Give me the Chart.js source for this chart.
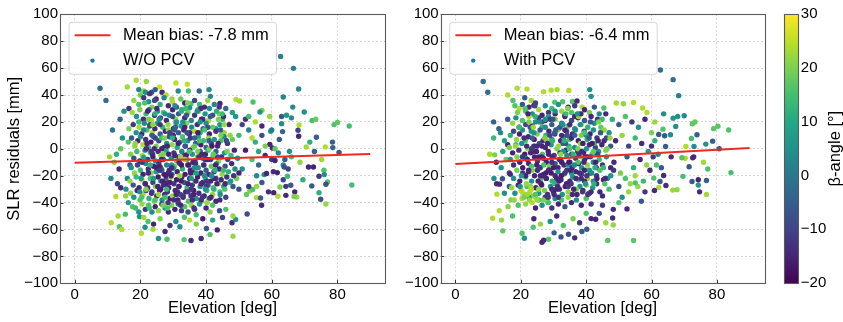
<!DOCTYPE html>
<html><head><meta charset="utf-8">
<script src="https://cdn.jsdelivr.net/npm/chart.js@4.4.0/dist/chart.umd.min.js"></script>
<style>
html,body{margin:0;padding:0;background:#fff;overflow:hidden}
#wrap{position:relative;width:843px;height:322px;background:#fff}
canvas{position:absolute;top:0}
</style></head><body>
<div id="wrap">
<canvas id="c1" width="400" height="322" style="left:0;width:400px;height:322px"></canvas>
<canvas id="c2" width="375" height="322" style="left:400px;width:375px;height:322px"></canvas>
<canvas id="cb" width="68" height="322" style="left:775px;width:68px;height:322px"></canvas>
</div>
<script>
// ---------- axes / labels ----------
const xTicks = [0, 20, 40, 60, 80];
const yTicks = [-100, -80, -60, -40, -20, 0, 20, 40, 60, 80, 100];
const cbTicks = [-20, -10, 0, 10, 20, 30];
const betaRange = [-20, 30];
const xTitle = 'Elevation [deg]';
const yTitle = 'SLR residuals [mm]';
const cbTitle = 'β-angle [°]';
const legendNoPcv = ['Mean bias: -7.8 mm', 'W/O PCV'];
const legendPcv = ['Mean bias: -6.4 mm', 'With PCV'];

// ---------- fitted bias lines ----------
const fitElev = [0, 90];
const fitNoPcv = [-10.3, -3.9];
const fitPcv = [-11.3, 0.6];

// ---------- W/O PCV: elevation [deg], residual [mm], beta [deg] ----------
const elevNoPcv = [
7.7,9.5,11.5,13.8,10.6,12.7,11,13,12,14.5,
15,16.5,13.5,14,15.5,12.5,11.1,13.2,13.6,14.3,
15.4,16.3,17.6,15.6,14,16,16.8,18.7,21.8,25.8,
30.8,34.3,16,21,21.5,23.4,26.6,27.8,31.5,34.6,
37.9,40.9,41.3,19.5,22.8,24.5,20,29.6,35.4,41,
44.2,49.1,50.2,54.3,57,56.4,59.4,62.7,66.6,68.2,
63.5,66.4,69.9,63,64.5,66,68.3,68,68.2,72.3,
73.4,79,80,83.6,71.6,73.6,70.5,73,76.3,78.5,
78.6,80.5,75.2,65.4,63,63.3,62.3,59.7,59.4,60.2,
46,48,45,52,55,53,57,60,61,47,
50,44,43,58,56,54,52,60,64,61,
63.5,66,68.6,71.2,72.7,75.9,74.4,76,77,76.5,
72.2,74.4,74.9,76.5,84.4,69.5,67,67.6,66.8,64.3,
61.9,60.6,65.8,64.3,62.5,63.5,64.8,61.7,60.5,63.8,
56.9,52.5,48.2,47.9,49,48.2,55.3,56.6,52.3,53.3,
54.2,55.4,57.7,58.4,55.4,50,53,57,56,51,
59,62,65,55,57,53,58,51,49,54,
43.4,40.1,41.2,38.5,35.4,33.3,28.1,25.5,27.5,23.8,
21.4,20.3,19.7,21,22.3,30.8,33.4,35,37,41.2,
44.1,46,24,26,29,32,37,39,42,45,
18,19.5,21,22.5,23.5,24.8,26,27.2,28.5,29.7,
31,32.3,33.5,35,36.5,38,39.5,40.5,42.5,44,
17.5,18.8,19.8,20.9,21.7,22.6,23.4,24.3,25.2,26.1,
27,27.9,28.8,29.8,30.7,31.6,32.6,33.5,34.5,35.5,
36.5,37.5,38.6,39.7,40.8,42,43.2,45.3,
16.5,17.8,18.7,19.6,20.4,21.2,22,22.8,23.6,24.4,
25.2,26,26.8,27.6,28.4,29.2,30,30.8,31.6,32.4,
33.2,34,34.8,35.6,36.4,37.3,38.2,39.1,40,41,
42,43,44.2,45.5,
16.3,17.3,18.3,19.2,20,20.8,21.6,22.4,23.2,24,
24.8,25.6,26.4,27.2,28,28.8,29.6,30.4,31.2,32,
32.8,33.6,34.4,35.2,36,36.8,37.6,38.4,39.2,40,
40.8,41.6,42.5,43.5,44.5,45.5,46.5,48,
17,18,18.9,19.8,20.6,21.4,22.2,23,23.8,24.6,
25.4,26.2,27,27.8,28.6,29.4,30.2,31,31.8,32.6,
33.4,34.2,35,35.8,36.6,37.4,38.2,39,39.8,40.6,
41.4,42.2,43,43.8,44.7,45.6,46.6,47.6,48.6,49.6,
21,34,
17.2,18.2,19.1,20,20.8,21.6,22.4,23.2,24,24.8,
25.6,26.4,27.2,28,28.8,29.6,30.4,31.2,32,32.8,
33.6,34.4,35.2,36,36.8,37.6,38.4,39.2,40,40.8,
41.6,42.4,43.2,44,44.9,45.8,46.8,47.8,48.8,50,
26,30,
16.8,17.8,18.7,19.6,20.5,21.4,22.2,23,23.8,24.6,
25.4,26.2,27,27.8,28.6,29.4,30.2,31,31.8,32.6,
33.4,34.2,35,35.8,36.6,37.4,38.2,39,39.8,40.6,
41.4,42.2,43,43.8,44.6,45.4,46.3,47.2,48.2,49.3,
17,18,19,19.9,20.8,21.7,22.6,23.4,24.2,25,
25.8,26.6,27.4,28.2,29,29.8,30.6,31.4,32.2,33,
33.8,34.6,35.4,36.2,37,37.8,38.6,39.4,40.2,41,
42,43,44.2,46,
18.5,19.5,20.5,21.5,22.5,23.5,24.5,25.5,26.5,27.5,
28.5,29.5,30.5,31.5,32.5,33.5,34.5,35.5,36.5,38,
40,42,
22,24,26,28,30,32,34,36,38,40,
23,25,27,29,31,33,35,37,39,41,
21,23.5,26.5,28.5,30.5,32.5,34.5,36.5,38.5,40.5,
24.5,27.5,29.5,31.5,33.5,35.5,37.5,39.5,42.5,44.5,
19.5,21.5,23.5,25.5,27.5,29.5,31.5,33.5,35.5,37.5,
20.5,22.5,24.5,26.5,28.5,30.5,32.5,34.5,36.5,38.5,
39.5,41.5,43.5,45.5,47.5,21.7,23.7,25.7,27.7,29.7,
31.7,33.7,35.7,37.7,39.7,41.7,43.7,45.7,22.9,24.9,
26.9,28.9,30.9,32.9,34.9,36.9,38.9,40.9,42.9,44.9,
18.4,20.4,22.4,24.4,26.4,28.4,30.4,32.4,34.4,36.4,
38.4,40.4,42.4,44.4,46.4,48.4,20.2,22.2,24.2,26.2,
28.2,30.2,32.2,34.2,36.2,38.2,40.2,42.2,44.2,46.2,
21.3,23.3,25.3,27.3,29.3,31.3,33.3,35.3,37.3,39.3,
41.3,43.3,45.3,47.3,19.8,21.8,23.8,25.8,27.8,29.8,
31.8,33.8,35.8,37.8,39.8,41.8,43.8,45.8,24.3,28.3,
32.3,36.3,40.3,44.3,22.7,26.7,30.7,34.7,38.7,42.7
];
const resNoPcv = [
45,36,14,22,-6,-4,-22,-26,-10,8,
28,30,-15,0,-35,-35.5,-55,-50,-58,-60,
-48.6,-40,-43,-30,-29,-22,-12,51,50,46,
49,48,46,43,42,42,42,40,43,43,
43,44,39,44,41,44,40,37,33.5,30,
33.7,36.7,35.5,34.8,28.6,27.4,24,68.7,59.8,44.5,
38.5,31,27.4,24,25,23,17.7,13.8,9.3,21,
22,18,19.5,17,5,8.6,1.4,-2,1.4,5,
0.9,-2.8,-8,-1.9,18.7,12.8,7,13,3.3,0.6,
30,27,22,22,20,24,17,14,0,18,
10,26,15,-5,-2,8,-1,-8,-8,-8.7,
-12,-6,-10,-13.5,-13.5,-16,-20.4,-19.2,-24.7,-26.4,
-27.6,-32.6,-37.5,-41,-26.9,-23,-32,-35.8,-35.5,-34.6,
-35.3,-32.6,-27.1,-27.9,-28.4,-23,-20.4,-17.7,-17,-13.5,
-42,-48.5,-65,-55,-52.6,-50,-36.3,-36.6,-34,-31.4,
-30.3,-27.9,-19.2,-18.4,-20,-30,-28,-25,-12,-15,
-32,-3,-15,5,10,14,2,18,24,-8,
-60.3,-59.3,-63.8,-66.7,-68.2,-67.5,-67.2,-66.7,-61.5,-59.8,
-58.3,-62.8,-50.4,-51,-54,-54,-50.9,-53,-49,-47,
-46,-45,-56,-52,-57,-58,-56,-52,-53,-51,
36,33,38,35,31,37,33,38,32,35,
31,37,34,30.5,36,33,31,36,33,31,
27,24,29,22,26,29,21,25,28,23,
27,21,25,29,22,26,29,23,27,21,
25,29,22,26,21,25,28,24,
15,18,12,16,11,19,14,17,12,15,
19,11,16,13,18,11,15,19,12,17,
14,19,11,16,13,18,12,15,19,11,
16,13,18,12,
5,8,2,6,9,3,7,1,5,9,
2,6,8,1,4,9,3,7,1,5,
9,2,6,8,1,4,9,3,6,1,
8,4,7,2,6,9,4,7,
-4,-7,-2,-9,-5,-1,-8,-3,-6,-9,
-2,-5,-8,-1,-4,-7,-3,-9,-6,-2,
-5,-8,-1,-4,-9,-6,-2,-7,-4,-1,
-8,-5,-2,-9,-6,-3,-8,-5,-1,-7,
-6.5,-4.5,
-14,-18,-12,-16,-19,-11,-15,-18,-13,-17,
-11,-15,-19,-12,-16,-19,-13,-17,-11,-15,
-19,-12,-16,-18,-11,-14,-18,-12,-16,-19,
-13,-17,-11,-15,-19,-13,-17,-11,-15,-18,
-13.5,-14.5,
-24,-27,-21,-29,-23,-26,-29,-22,-25,-28,
-21,-24,-27,-23,-29,-21,-26,-23,-28,-21,
-25,-29,-22,-27,-24,-21,-28,-25,-22,-27,
-24,-29,-22,-26,-23,-28,-21,-25,-28,-22,
-33,-36,-31,-38,-34,-31,-37,-33,-39,-35,
-31,-38,-34,-32,-37,-35,-31,-38,-34,-36,
-32,-39,-35,-31,-37,-33,-39,-35,-31,-37,
-34,-39,-32,-36,
-44,-47,-41,-45,-42,-47,-43,-46,-41,-44,
-47,-42,-45,-41,-46,-43,-47,-42,-45,-41,
-44,-42,
4,-22,18,-30,10,-20,25,-10,6,-28,
-12,30,-4,-25,20,-35,12,-18,22,0,
14,-32,-16,14,-5,28,-26,2,-38,16,
8,-36,-12,4,-8,-30,12,-20,-22,10,
20,-26,10,-34,26,-14,-40,16,-22,-2,
-10,22,-38,0,-18,32,-12,-32,8,-26,
14,-36,-6,18,-24,-30,-4,22,-20,8,
-28,2,-16,28,-8,-20,4,-30,18,-14,
-42,12,-34,20,-2,-24,-36,6,-12,26,
4,-36,-18,26,-8,-40,14,-24,34,-14,
30,-8,-30,14,-2,-20,-22,28,0,-30,
2,-38,-6,12,-34,20,-24,-4,-38,6,
34,-2,-28,8,-20,-32,6,-18,28,-12,
24,-26,-16,10,-32,0,18,-16,-26,24,
-10,30,-38,-6,-30,2,22,-26,36,-44,
-42,-44,-40,-34,-44,-24,16,-12,-4,-16
];
const betaNoPcv = [
-2,-2,-1,-4,23,12,4,-10,20,6,
5,-12,-14,18,22,24,24,23,16,24,
15,7,16,5,-14,2,-6,24,22,26,
25,25,23,22,5,-8,-14,24,4,15,
-4,4,4,2,-12,-5,18,22,16,4,
-15,24,23,16,20,6,22,2,2,3,
3,4,5,-6,6,4,24,-10,-15,15,
18,16,17,15,12,-5,23,-5,24,-5,
-4,-6,23,5,4,-4,-6,5,-15,-14,
-3,8,12,-12,24,15,-14,1,18,-15,
14,20,6,-14,10,24,-16,-12,-5,-15,
5,14,22,-15,-15,16,-12,4,16,-8,
-6,12,-8,22,15,12,-15,22,20,-14,
24,-15,-6,-12,20,-10,14,-15,-14,-8,
-14,-8,22,-14,4,22,24,-6,18,20,
16,22,4,-14,4,-8,-12,-6,-3,5,
-14,2,-10,12,-8,3,20,-10,6,16,
-15,-6,16,-14,-14,17,16,6,-14,23,
5,24,5,23,16,4,16,24,15,21,
-8,16,-15,20,-12,5,20,-16,10,-10,
22,16,-12,5,20,-15,12,3,-14,24,
-6,18,-15,5,-10,14,-14,22,3,-12,
23,5,20,-14,14,-5,24,-15,6,-10,
16,-14,3,-15,22,-5,10,-15,20,4,
-12,14,-16,6,24,-8,12,-14,
20,-12,5,23,-15,3,16,-8,24,-14,
6,-5,14,-15,22,4,-12,16,-6,8,
-15,20,-10,3,24,-14,12,-4,5,-16,
18,-12,6,22,
16,-6,22,-15,4,24,-12,12,-16,3,
20,-10,14,-15,5,-8,22,-14,10,-5,
16,-15,4,-12,20,-6,8,-16,14,-4,
22,-10,6,-14,15,3,-12,18,
20,-8,14,-15,23,3,-12,16,-16,6,
-14,22,-6,10,-15,4,-12,18,-15,2,
-10,14,-16,6,-14,20,-8,3,-15,12,
-12,16,-5,22,-14,5,-10,14,-15,4,
8,-15,
5,22,-10,14,-15,4,-14,20,-16,6,
-12,16,-15,2,-14,-5,20,-15,-8,12,
-16,-4,-14,22,-12,5,-15,14,-6,-14,
18,-12,6,-15,22,-8,12,-14,4,-15,
-15,6,
22,-6,14,-14,24,4,-15,16,-10,20,
-16,3,-14,-5,-15,22,-12,-16,5,-14,
-6,14,-15,-12,20,-16,4,-14,12,-8,
-15,16,-10,22,-14,6,-12,15,-6,20,
22,5,-14,16,24,-10,12,-15,20,-16,
-14,4,-15,-12,-16,22,-14,-15,-6,-14,
-15,16,-12,-16,5,-14,20,-15,12,-8,
22,-14,15,-10,
14,5,22,-12,16,4,-15,22,-10,6,
-14,20,-15,4,-12,16,-8,22,-15,6,
-14,16,
-15,6,-12,14,-15,22,-6,-15,16,-12,
12,-14,20,-15,5,-12,-15,8,-14,20,
4,-12,-6,22,-15,12,-15,18,-14,-8,
-10,14,6,-15,22,-12,-16,4,-14,20,
14,-15,-6,22,5,-14,-12,-15,6,20,
-12,20,16,-15,-14,4,-16,-12,-5,-14,
16,-14,-10,22,6,20,-15,3,-16,12,
-15,-6,-14,22,-12,4,-15,16,-8,-16,
20,-10,-15,5,16,-14,-12,-6,-15,14,
22,16,-14,12,-15,-12,-6,-16,20,4,
-14,-15,12,-6,20,-12,6,-15,-14,-16,
-15,-14,22,-8,-15,5,-12,18,-14,-10,
16,-12,-15,20,-16,-14,12,-15,4,-14,
-6,-15,14,22,5,-14,22,-12,-15,-8,
-15,14,-14,-12,6,-16,20,-14,-10,16,
-14,-12,22,5,15,-15,-5,-16,-14,12
];

// ---------- With PCV ----------
const elevPcv = [
8.5,9.9,11.7,11.7,13.3,13.8,12.5,11.8,12.6,13.5,
14.4,12.7,15,13.4,11.4,14.1,14.5,16.1,17.5,15.5,
10.5,12,14.5,16,15,16.5,17,16.5,14,16,
18.9,21.9,27,29.3,31.1,34.7,41.1,41.5,30.4,32.8,
35.8,37.2,38.8,16,17.6,21.2,23.2,24,19.5,18.2,
45.4,49.2,51.4,54.5,57.3,58.6,62.7,66.6,68.3,63.7,
70,68,66.6,65.8,64,62.2,63.5,67.4,72.5,73.3,
73.9,72.2,70.5,73,76.6,78.7,80.7,79,80.3,83.6,
84.3,77.2,75.9,72.6,71.5,70.3,69.3,72.9,64.3,66,
76.8,76.8,74.7,74.3,74.3,72.4,69.6,67.8,66.5,64.4,
63.7,62.6,62.2,60.9,60.7,55.8,55,56.9,52.5,48.3,
48.1,48.3,54.5,46.6,41.5,42.9,40.2,38.7,36.5,34.6,
32.3,30.2,28.5,27,26.5,23.8,21.1,20.4,24,26,
29,31,33,36,38,40,44,46,50,45,
46,48,50,52,54,56,58,60,61,47,
49,51,53,55,57,59,60.5,58.5,56.5,54.5,
52.5,50.5,48.5,46.5,52,55,57.5,59.5,61.5,58,
53,50,47,45,51,53.5,62,60,61,63,
19,20.5,21.5,22.5,23.5,24.5,25.5,26.5,27.5,28.5,
29.5,30.5,31.5,32.5,33.5,34.5,35.5,36.5,38,39.5,
41,42.5,44,
17.5,18.5,19.5,20.5,21.5,22.5,23.5,24.5,25.5,26.5,
27.5,28.5,29.5,30.5,31.5,32.5,33.5,34.5,35.5,36.5,
37.5,38.5,39.5,40.5,41.5,42.5,43.5,44.5,
16.8,17.8,18.7,19.6,20.5,21.4,22.3,23.2,24.1,25,
25.9,26.8,27.7,28.6,29.5,30.4,31.3,32.2,33.1,34,
34.9,35.8,36.7,37.6,38.5,39.4,40.3,41.2,42.2,43.3,
44.4,45.5,
16.5,17.5,18.5,19.4,20.3,21.2,22.1,23,23.9,24.8,
25.7,26.6,27.5,28.4,29.3,30.2,31.1,32,32.9,33.8,
34.7,35.6,36.5,37.4,38.3,39.2,40.1,41,41.9,42.8,
43.8,44.8,46,47.5,
16.8,17.8,18.8,19.7,20.6,21.5,22.4,23.3,24.2,25.1,
26,26.9,27.8,28.7,29.6,30.5,31.4,32.3,33.2,34.1,
35,35.9,36.8,37.7,38.6,39.5,40.4,41.3,42.2,43.1,
44,45,46.2,47.5,
16.8,17.8,18.8,19.7,20.6,21.5,22.4,23.3,24.2,25.1,
26,26.9,27.8,28.7,29.6,30.5,31.4,32.3,33.2,34.1,
35,35.9,36.8,37.7,38.6,39.5,40.4,41.3,42.2,43.2,
44.2,45.3,
17.2,18.2,19.2,20.1,21,21.9,22.8,23.7,24.6,25.5,
26.4,27.3,28.2,29.1,30,30.9,31.8,32.7,33.6,34.5,
35.4,36.3,37.2,38.1,39,40,41,42,43.2,
18,19.2,20.4,21.5,22.5,23.5,24.5,25.5,26.5,27.5,
28.5,29.5,30.5,31.5,32.5,33.5,34.5,35.5,37,38.5,
40,41.5,
22,24,26,28,30,32,34,36,38,40,
23,25,27,29,31,33,35,37,39,41,
21,23.5,25.5,27.5,29.5,31.5,33.5,35.5,37.5,39.5,
24.5,26.5,28.5,30.5,32.5,34.5,36.5,38.5,40.5,42.5,
19.5,21.5,23.5,25.5,27.5,29.5,31.5,33.5,35.5,37.5,
20.5,22.5,24.5,26.5,28.5,30.5,32.5,34.5,36.5,38.5,
39.5,41.5,43.5,45.5,47.5,21.7,23.7,25.7,27.7,29.7,
31.7,33.7,35.7,37.7,39.7,41.7,43.7,45.7,22.9,24.9,
26.9,28.9,30.9,32.9,34.9,36.9,38.9,40.9,42.9,44.9,
18.4,20.4,22.4,24.4,26.4,28.4,30.4,32.4,34.4,36.4,
38.4,40.4,42.4,44.4,46.4,48.4,20.2,22.2,24.2,26.2,
28.2,30.2,32.2,34.2,36.2,38.2,40.2,42.2,44.2,46.2,
21.3,23.3,25.3,27.3,29.3,31.3,33.3,35.3,37.3,39.3,
41.3,43.3,45.3,47.3,19.8,21.8,23.8,25.8,27.8,29.8,
31.8,33.8,35.8,37.8,39.8,41.8,43.8,45.8,24.3,28.3,
22.7,26.7,30.7,34.7,38.7,42.7,23.2,22,25,21
];
const resPcv = [
50,42,20,8,15,12,-10,-22,-26,-26.3,
-22.3,-33.7,-33,-46,-51.6,-53,-61,-43,-50,-8,
-4,-4.5,-2,3,6,-18,-38,-28,-14,22,
45,44.4,42.4,43.6,44,43.4,44,39,34.7,35,
35.2,35.5,31,40,36,38,36,32.3,30,32,
30.3,34,33.5,34.5,30.3,27,58.6,51.4,39.5,26,
24.6,24,22.8,10.4,9.7,10.7,14.6,16.6,18.6,19.9,
10.4,7.7,1.7,1.7,3.5,5.7,0,15,16.8,14,
-17.7,-15,-10,-6.7,-13.4,-7,-6.7,-6,1.7,-6,
-23.6,-34,-32,-27,-23,-24.3,-20.5,-30.5,-30.7,-27.3,
-19.9,-24.3,-28.8,-31,-21.8,-28,-25.3,-39,-44.7,-45,
-51.4,-56.6,-68.2,-68.2,-51.9,-52.4,-59.8,-61.5,-66.2,-63.5,
-65.5,-62.5,-67.2,-68,-69.5,-58.3,-66.5,-62.8,-52,-56,
-54,-50,-57,-52,-55,-48,-48,-55,-40,-42,
26,22,18,24,20,16,22,12,20,12,
6,10,2,8,4,-2,-6,-12,-8,-14,
-6,-18,-10,-22,-22,-20,-24,-16,-12,-32,
-32,-28,-30,-35,-36,-26,-4,2,6,-14,
27,33,28,31,26,34,29,25,32,27,
30,26,33,28,25,31,27,32,26,29,
27,31,26,
19,23,16,21,18,24,17,20,23,16,
21,24,18,22,15,19,24,17,21,15,
23,18,21,16,24,19,22,16,
10,13,7,11,14,6,9,13,7,11,
14,6,10,13,7,11,14,6,9,13,
7,11,14,6,10,13,7,11,14,8,
12,6,
1,-3,3,-1,4,-4,0,-3,2,-2,
4,-4,1,-2,3,-5,0,-3,4,-1,
2,-4,1,-2,4,-3,0,3,-4,1,
-2,3,-1,2,
-8,-12,-6,-10,-14,-7,-11,-13,-6,-9,
-14,-7,-10,-13,-6,-11,-14,-8,-12,-5,
-10,-13,-7,-11,-14,-8,-12,-6,-10,-14,
-8,-12,-6,-14,
-19,-22,-16,-24,-18,-21,-17,-24,-20,-16,
-23,-19,-22,-16,-24,-20,-17,-23,-19,-16,
-24,-21,-17,-23,-19,-16,-22,-18,-24,-20,
-16,-23,
-29,-33,-27,-31,-34,-28,-32,-35,-29,-33,
-27,-31,-34,-28,-32,-26,-30,-34,-28,-32,
-26,-30,-34,-28,-31,-27,-33,-29,-26,
-38,-42,-37,-41,-36,-40,-44,-38,-42,-36,
-40,-44,-37,-41,-38,-43,-36,-40,-38,-42,
-37,-41,
-8,12,-20,6,-14,16,-26,-4,-18,10,
-28,2,-12,22,-22,-2,18,-30,4,-16,
8,-16,-6,16,-30,2,-18,8,-10,-24,
-36,20,-4,-26,10,-12,24,-6,-34,4,
16,-20,8,-30,22,-10,-36,14,-18,0,
-6,20,-34,2,-16,28,-10,-28,10,-22,
12,-32,-4,14,-20,-26,-2,20,-18,6,
-24,4,-14,24,-6,-18,6,-26,16,-12,
-38,10,-30,18,0,-22,-32,8,-10,22,
2,-32,-16,24,-6,-36,12,-20,30,-12,
26,-6,-26,12,0,-16,-20,26,2,-26,
4,-34,-4,10,-30,18,-20,-2,-32,8,
30,0,-24,8,-18,-28,6,-16,26,-10,
20,-22,-14,8,-28,2,16,-14,-22,22,
-8,26,-34,-4,-26,4,20,-22,32,-40,
-38,-20,14,-10,-2,-14,-30,-34,-38,-36
];
const betaPcv = [
-2,-2,-4,14,-5,4,-15,5,-14,-14,
-8,24,5,24,24,22,17,21,16,18,
24,20,10,-14,8,-12,20,-6,6,-6,
24,24,24,24,23,24,4,4,16,16,
16,-14,24,24,16,-6,23,-15,24,16,
16,23,22,24,24,24,-2,-2,2,4,
4,5,6,4,-6,-6,16,5,17,18,
-5,15,24,4,5,-5,-5,17,17,16,
15,16,23,-15,-6,24,16,-14,-5,-14,
-5,23,-14,6,-15,-6,15,22,22,-14,
-14,-6,24,-14,16,22,16,-6,-14,-14,
-14,22,17,17,-15,-15,-6,-6,-14,-8,
-8,-5,17,-14,-14,16,5,16,-15,22,
5,-14,16,20,-12,16,-8,22,16,-12,
-14,12,-6,16,-12,5,-14,20,22,5,
-15,22,-10,14,-14,6,-12,22,-15,12,
-6,20,-14,4,16,23,14,-14,16,-12,
22,-8,15,-14,5,22,4,-14,12,-6,
20,-6,16,-14,5,-10,23,-15,4,-12,
14,-15,6,22,-8,-14,16,-12,5,-15,
20,-6,3,
22,5,-14,16,-10,24,-15,4,-12,14,
-15,6,-6,20,-14,3,-15,16,-10,5,
-14,22,-6,12,-15,4,-12,18,
12,-10,22,-15,4,16,-14,5,-16,20,
-6,-15,12,-14,4,-12,22,-15,5,-10,
16,-14,3,-16,20,-8,12,-15,5,-12,
16,-14,
20,-15,14,-12,5,-16,22,-14,4,-15,
-8,16,-14,-16,5,-12,20,-15,-6,-14,
12,-15,4,-12,22,-16,6,-14,14,-10,
5,-15,20,-6,
5,-14,20,-15,-16,4,-14,16,-15,-12,
5,-15,-16,20,-14,-6,-15,12,-14,4,
-15,16,-12,-16,5,-14,22,-10,4,-15,
14,-12,5,-15,
-14,5,20,-15,-12,14,-16,5,-15,-14,
16,-15,-6,-16,12,-14,4,-15,20,-12,
-14,5,-15,16,-10,-15,22,-14,4,-12,
16,-15,
22,5,-14,24,22,16,24,22,-14,5,
-15,20,-12,4,-15,16,-14,5,-16,22,
-12,14,-15,5,-14,20,-10,6,-14,
22,16,24,22,5,24,-15,16,4,-14,
20,-12,5,-15,16,-6,22,-14,5,-15,
16,-12,
-15,5,-14,22,-16,-6,-15,12,-14,5,
22,-14,16,-12,-15,5,-14,20,-16,6,
-14,20,-15,4,-14,22,-12,-15,16,-14,
23,-6,-15,12,-14,5,-15,20,-12,14,
14,-15,-6,22,5,-14,-12,-15,6,20,
-12,20,16,-15,-14,4,-16,-12,-5,-14,
16,-14,-10,22,6,22,-15,3,-16,12,
-15,-6,-14,22,-12,4,-15,16,-8,-16,
20,-10,-15,5,16,-14,-12,-6,-15,14,
22,24,-14,12,-15,-12,-6,-16,20,4,
-14,-15,12,-6,20,-12,6,-15,-14,-16,
-15,-14,22,-8,-15,5,-12,18,-14,-10,
16,-12,-15,20,-16,-14,12,-15,4,-14,
-6,-15,14,22,5,-14,22,-12,-15,-8,
-15,14,-14,-12,6,-16,20,-14,-10,16,
22,-15,-5,-16,-14,12,24,23,22,20
];

// ---------- styling helpers ----------
const FONT = "'Liberation Sans', Arial, Helvetica, sans-serif";
const RED = '#ec2b23';
const GRID = '#cbcbcb';
const FRAME = '#5a5a5a';
const VIR = ['#440154','#482475','#414487','#355f8d','#2a788e','#21918c','#22a884','#44bf70','#7ad151','#bddf26','#fde725'];
function hex2rgb(h){return [parseInt(h.substr(1,2),16),parseInt(h.substr(3,2),16),parseInt(h.substr(5,2),16)];}
function viridis(t){
  t = Math.max(0, Math.min(1, t));
  const s = t * 10, i = Math.min(9, Math.floor(s)), f = s - i;
  const a = hex2rgb(VIR[i]), b = hex2rgb(VIR[i+1]);
  return 'rgb(' + Math.round(a[0]+(b[0]-a[0])*f) + ',' + Math.round(a[1]+(b[1]-a[1])*f) + ',' + Math.round(a[2]+(b[2]-a[2])*f) + ')';
}
function betaColor(b){ return viridis((b - betaRange[0]) / (betaRange[1] - betaRange[0])); }
function fmt(v){ return v < 0 ? '\u2212' + Math.abs(v) : String(v); }

Chart.defaults.font.family = FONT;
Chart.defaults.color = '#000';

const deco = {
  id: 'panelDeco',
  afterDraw(chart) {
    const {ctx, chartArea: ca, scales: {x, y}} = chart;
    ctx.save();
    ctx.strokeStyle = '#333'; ctx.lineWidth = 1;
    ctx.beginPath();
    xTicks.forEach(v => { const px = Math.round(x.getPixelForValue(v)) + 0.5; ctx.moveTo(px, ca.bottom); ctx.lineTo(px, ca.bottom - 3.5); });
    yTicks.forEach(v => { const py = Math.round(y.getPixelForValue(v)) + 0.5; ctx.moveTo(ca.left, py); ctx.lineTo(ca.left + 3.5, py); });
    ctx.stroke();
    ctx.strokeStyle = FRAME; ctx.lineWidth = 1.1;
    ctx.strokeRect(Math.round(ca.left) + 0.5, Math.round(ca.top) + 0.5, Math.round(ca.right - ca.left), Math.round(ca.bottom - ca.top));
    const ds = chart.data.datasets;
    const bx = ca.left + 9, by = ca.top + 8, bw = 207.5, bh = 52, r = 3;
    ctx.beginPath();
    ctx.moveTo(bx + r, by); ctx.lineTo(bx + bw - r, by); ctx.arcTo(bx + bw, by, bx + bw, by + r, r);
    ctx.lineTo(bx + bw, by + bh - r); ctx.arcTo(bx + bw, by + bh, bx + bw - r, by + bh, r);
    ctx.lineTo(bx + r, by + bh); ctx.arcTo(bx, by + bh, bx, by + bh - r, r);
    ctx.lineTo(bx, by + r); ctx.arcTo(bx, by, bx + r, by, r); ctx.closePath();
    ctx.fillStyle = 'rgba(255,255,255,0.85)'; ctx.fill();
    ctx.strokeStyle = '#d6d6d6'; ctx.lineWidth = 1; ctx.stroke();
    ctx.strokeStyle = RED; ctx.lineWidth = 2;
    ctx.beginPath(); ctx.moveTo(ca.left + 14.7, ca.top + 21); ctx.lineTo(ca.left + 50.5, ca.top + 21); ctx.stroke();
    ctx.fillStyle = '#1f77b4';
    ctx.beginPath(); ctx.arc(ca.left + 32.5, ca.top + 46.3, 2.2, 0, Math.PI * 2); ctx.fill();
    ctx.fillStyle = '#000'; ctx.font = '16.5px ' + FONT; ctx.textAlign = 'left'; ctx.textBaseline = 'middle';
    ctx.fillText(ds[0].label, ca.left + 63, ca.top + 21);
    ctx.fillText(ds[1].label, ca.left + 63, ca.top + 46.5);
    ctx.restore();
  }
};

function makePanel(id, elev, res, beta, fitY, legendTexts, showYTitle, yWidth, padRight) {
  return new Chart(document.getElementById(id), {
    type: 'scatter',
    data: { datasets: [
      { label: legendTexts[0], data: fitElev.map((x, i) => ({x, y: fitY[i]})), showLine: true,
        borderColor: RED, borderWidth: 2, pointRadius: 0, order: 0 },
      { label: legendTexts[1], data: elev.map((x, i) => ({x, y: res[i]})), pointRadius: 2.7,
        pointBorderWidth: 0, pointBackgroundColor: beta.map(betaColor), order: 1 }
    ]},
    options: {
      responsive: false, animation: false, devicePixelRatio: 1, events: [],
      layout: { padding: { left: 0, top: 14.3, right: padRight, bottom: 0 } },
      plugins: { legend: { display: false }, tooltip: { enabled: false } },
      scales: {
        x: { type: 'linear', min: -4.5, max: 94.5,
          afterBuildTicks: s => { s.ticks = xTicks.map(v => ({value: v})); },
          afterFit: s => { s.height = 38.7; },
          ticks: { padding: 3, font: { size: 15 }, color: '#000', callback: fmt, maxRotation: 0, autoSkip: false },
          grid: { color: GRID, lineWidth: 0.8, drawTicks: false },
          border: { display: false, dash: [2, 2] },
          title: { display: true, text: xTitle, font: { size: 16.5 }, color: '#000', padding: { top: 0, bottom: 4 } } },
        y: { type: 'linear', min: -100, max: 100,
          afterBuildTicks: s => { s.ticks = yTicks.map(v => ({value: v})); },
          afterFit: s => { s.width = yWidth; },
          ticks: { padding: 2, font: { size: 15 }, color: '#000', callback: fmt, autoSkip: false },
          grid: { color: GRID, lineWidth: 0.8, drawTicks: false },
          border: { display: false, dash: [2, 2] },
          title: { display: showYTitle, text: yTitle, font: { size: 16.5 }, color: '#000', padding: { top: 5, bottom: 0 } } }
      }
    },
    plugins: [deco]
  });
}

makePanel('c1', elevNoPcv, resNoPcv, betaNoPcv, fitNoPcv, legendNoPcv, true, 60, 15);
makePanel('c2', elevPcv, resPcv, betaPcv, fitPcv, legendPcv, false, 40.7, 10.7);

// ---------- colorbar ----------
const cbPlugin = {
  id: 'cbDraw',
  beforeDatasetsDraw(chart) {
    const {ctx, chartArea: ca, scales: {y}} = chart;
    const g = ctx.createLinearGradient(0, y.getPixelForValue(betaRange[0]), 0, y.getPixelForValue(betaRange[1]));
    VIR.forEach((c, i) => g.addColorStop(i / (VIR.length - 1), c));
    ctx.save(); ctx.fillStyle = g; ctx.fillRect(ca.left, ca.top, ca.right - ca.left, ca.bottom - ca.top); ctx.restore();
  },
  afterDraw(chart) {
    const {ctx, chartArea: ca} = chart;
    ctx.save();
    ctx.strokeStyle = FRAME; ctx.lineWidth = 1.1;
    ctx.strokeRect(Math.round(ca.left) + 0.5, Math.round(ca.top) + 0.5, Math.round(ca.right - ca.left), Math.round(ca.bottom - ca.top));
    ctx.translate(60, (ca.top + ca.bottom) / 2);
    ctx.rotate(-Math.PI / 2);
    ctx.fillStyle = '#000'; ctx.font = '16.5px ' + FONT; ctx.textAlign = 'center'; ctx.textBaseline = 'middle';
    ctx.fillText(cbTitle, 0, 0);
    ctx.restore();
  }
};
new Chart(document.getElementById('cb'), {
  type: 'scatter',
  data: { datasets: [{ data: [] }] },
  options: {
    responsive: false, animation: false, devicePixelRatio: 1, events: [],
    layout: { padding: { left: 9.3, top: 14.3, right: 0, bottom: 39 } },
    plugins: { legend: { display: false }, tooltip: { enabled: false } },
    scales: {
      x: { display: false, min: 0, max: 1 },
      y: { position: 'right', min: betaRange[0], max: betaRange[1],
        afterBuildTicks: s => { s.ticks = cbTicks.map(v => ({value: v})); },
        afterFit: s => { s.width = 44.7; },
        ticks: { padding: 2.5, font: { size: 15 }, color: '#000', callback: fmt, autoSkip: false },
        grid: { display: false, drawTicks: false }, border: { display: false } }
    }
  },
  plugins: [cbPlugin]
});
</script>
</body></html>
